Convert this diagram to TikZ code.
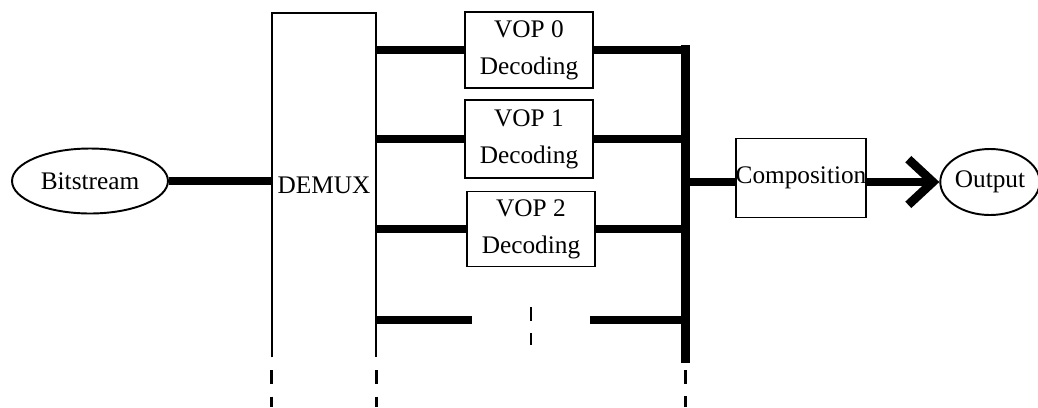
\documentclass[tikz,border=0pt]{standalone}
\usepackage{fontspec}
\setmainfont{Liberation Serif}
\usetikzlibrary{shapes.geometric,arrows.meta}
\begin{document}
\begin{tikzpicture}[x=0.02cm,y=-0.02cm,
    font=\fontsize{14.4}{21}\selectfont,
    box/.style={draw,line width=1.1pt,inner sep=0pt,align=center},
    oval/.style={draw,ellipse,line width=1.1pt,inner sep=0pt},
    wire/.style={line width=4pt},
    bus/.style={line width=5pt},
    dashcont/.style={line width=1.5pt,dash pattern=on 8pt off 7pt}]
    \useasboundingbox (0,0) rectangle (1038,407);
    \node[oval,minimum width=3.12cm,minimum height=1.3cm] (bits) at (90,181) {Bitstream};
    \node[inner sep=0pt,minimum width=2.08cm,minimum height=6.88cm] (demux) at (324,185) {DEMUX};
    \draw[line width=1.1pt] (demux.south west) |- (demux.north east) -- (demux.south east);
    \node[box,minimum width=2.56cm,minimum height=1.52cm] (vop0) at (529,50) {VOP 0\\Decoding};
    \node[box,minimum width=2.56cm,minimum height=1.56cm] (vop1) at (529,139) {VOP 1\\Decoding};
    \node[box,minimum width=2.56cm,minimum height=1.5cm] (vop2) at (531,229) {VOP 2\\Decoding};
    \node[box,minimum width=2.6cm,minimum height=1.58cm] (comp) at (801,178) {Composition};
    \node[oval,minimum width=1.76cm,minimum height=1.32cm] (out) at (990,182) {Output};
    \coordinate (bustop) at (685.5,45);
    \coordinate (busbot) at (685.5,363);
    \coordinate (busmid) at (685.5,182);
    % bitstream into demux
    \draw[wire] (bits.east) -- (bits.east -| demux.west);
    % demux to decoders
    \foreach \v in {vop0,vop1,vop2}{
        \draw[wire] (\v.west -| demux.east) -- (\v.west);
        \draw[wire] (\v.east) -- (\v.east -| bustop);
    }
    \draw[bus] (bustop) -- (busbot);
    % further decoders
    \coordinate (more) at (531,320);
    \draw[wire] (more -| demux.east) -- (472,320);
    \draw[wire] (590,320) -- (more -| bustop);
    \draw[dashcont] (531,307) -- (531,345);
    \draw[dashcont] (demux.south west) ++(0,13) -- ++(0,37);
    \draw[dashcont] (demux.south east) ++(0,13) -- ++(0,37);
    \draw[dashcont] (busbot) ++(0,7) -- ++(0,37);
    % composition and output
    \draw[wire] (busmid) -- (busmid -| comp.west);
    \draw[wire,-{Straight Barb[length=14pt,width=26pt,line width=5pt]}] (comp.east |- busmid) -- (out.west);
\end{tikzpicture}
\end{document}
